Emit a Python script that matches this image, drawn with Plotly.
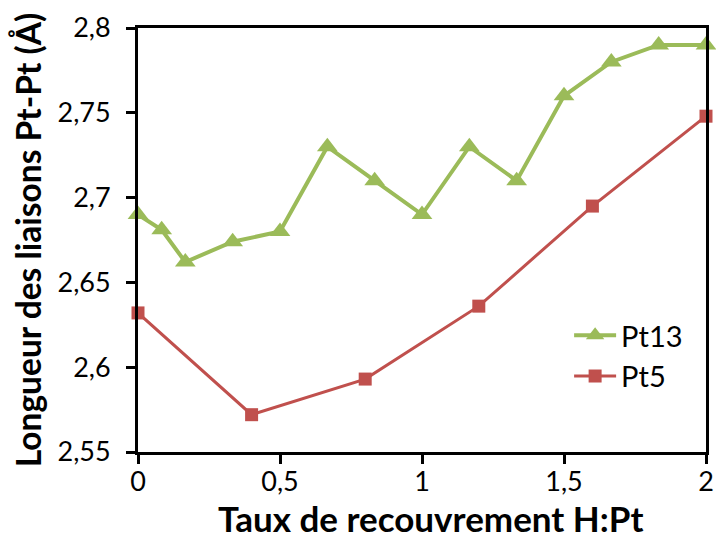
import plotly.graph_objects as go

# Taux de recouvrement H:Pt
x_pt13 = [0, 1/12, 1/6, 1/3, 1/2, 2/3, 5/6, 1, 7/6, 4/3, 3/2, 5/3, 11/6, 2]
y_pt13 = [2.690, 2.681, 2.662, 2.674, 2.680, 2.730, 2.710, 2.690, 2.730, 2.710, 2.760, 2.780, 2.790, 2.790]

x_pt5 = [0, 0.4, 0.8, 1.2, 1.6, 2.0]
y_pt5 = [2.632, 2.572, 2.593, 2.636, 2.695, 2.748]

GREEN = "#9BBB59"
RED = "#C0504D"
FONT = "Lato"

fig = go.Figure()
fig.add_trace(go.Scatter(
    x=x_pt13, y=y_pt13, name="Pt13", mode="lines+markers",
    line=dict(color=GREEN, width=4),
    marker=dict(symbol="triangle-up", size=18, color=GREEN),
    cliponaxis=False,
))
fig.add_trace(go.Scatter(
    x=x_pt5, y=y_pt5, name="Pt5", mode="lines+markers",
    line=dict(color=RED, width=3),
    marker=dict(symbol="square", size=13, color=RED),
    cliponaxis=False,
))

axis_common = dict(
    showgrid=False, zeroline=False, automargin=False,
    showline=True, linecolor="black", linewidth=3, mirror=True,
    ticks="outside", ticklen=9, tickwidth=3, tickcolor="black",
    tickfont=dict(family=FONT, size=27, color="black"),
)

fig.update_layout(
    width=716, height=541,
    margin=dict(l=138, r=10, t=28, b=89),
    paper_bgcolor="white", plot_bgcolor="white",
    separators=", ",
    font=dict(family=FONT, color="black"),
    xaxis=dict(range=[0, 2], dtick=0.5, tick0=0, ticklabelstandoff=-5,
               **axis_common),
    yaxis=dict(
        range=[2.55, 2.8], dtick=0.05, tick0=2.55,
        ticklabelstandoff=10,
        title=dict(text="<b>Longueur des liaisons Pt-Pt (Å)</b>",
                   font=dict(family=FONT, size=33.5, color="black"), standoff=6),
        **axis_common,
    ),
    legend=dict(
        x=0.759, y=0.335, xanchor="left", yanchor="top",
        itemwidth=42,
        font=dict(family=FONT, size=29, color="black"),
        bgcolor="rgba(0,0,0,0)",
    ),
    showlegend=True,
)

# x-axis title, resting on the bottom edge of the figure
fig.add_annotation(
    text="<b>Taux de recouvrement H:Pt</b>",
    xref="paper", yref="paper", x=0.515, y=-0.2099,
    xanchor="center", yanchor="bottom", showarrow=False,
    font=dict(family=FONT, size=35, color="black"),
)

fig.write_html("out.html")
